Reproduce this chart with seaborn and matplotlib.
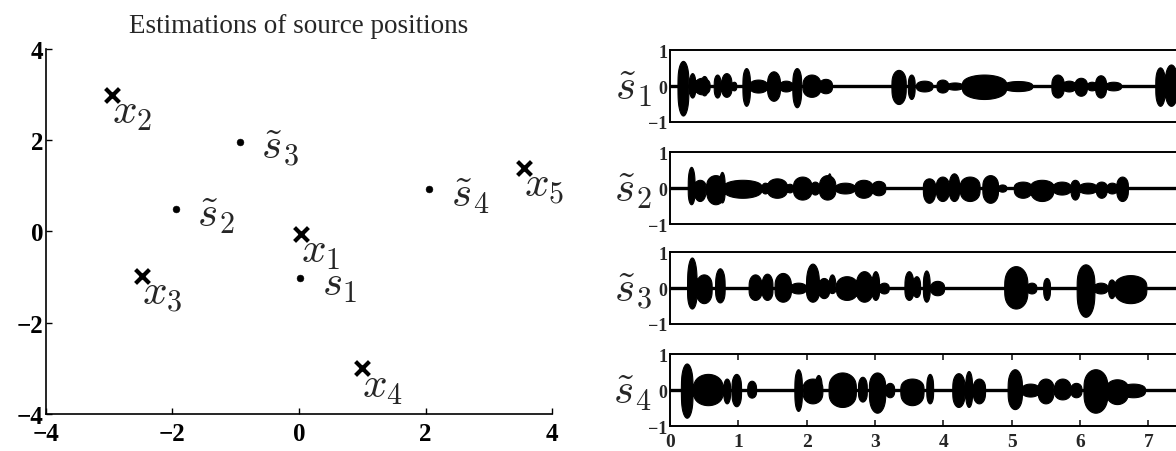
import numpy as np
import matplotlib
matplotlib.use("Agg")
import matplotlib.pyplot as plt
import seaborn as sns

# ---------------- data ----------------
mic_labels = [r"$x_1$", r"$x_2$", r"$x_3$", r"$x_4$", r"$x_5$"]
mic_x = [0.03, -2.95, -2.48, 1.00, 3.55]
mic_y = [-0.05, 3.00, -0.98, -3.00, 1.40]

src_labels = [r"$s_1$", r"$\tilde{s}_2$", r"$\tilde{s}_3$", r"$\tilde{s}_4$"]
src_x = [0.02, -1.95, -0.94, 2.06]
src_y = [-1.02, 0.49, 1.97, 0.94]

axis_ticks = [-4, -2, 0, 2, 4]
time_ticks = [0, 1, 2, 3, 4, 5, 6, 7]
panel_labels = [r"$\tilde{s}_1$", r"$\tilde{s}_2$", r"$\tilde{s}_3$", r"$\tilde{s}_4$"]

# speech bursts: (start s, end s, upper amplitude, lower amplitude)
s1_bursts = [(0.11, 0.27, 0.70, 0.82), (0.28, 0.37, 0.36, 0.32), (0.36, 0.58, 0.23, 0.23),
             (0.45, 0.55, 0.28, 0.26), (0.64, 0.74, 0.32, 0.32), (0.75, 0.90, 0.36, 0.30),
             (0.90, 0.97, 0.12, 0.12), (1.06, 1.17, 0.50, 0.55), (1.16, 1.42, 0.18, 0.18),
             (1.42, 1.61, 0.41, 0.41), (1.60, 1.79, 0.15, 0.15), (1.79, 1.92, 0.50, 0.59),
             (1.94, 2.20, 0.32, 0.30), (2.18, 2.37, 0.20, 0.20), (3.24, 3.45, 0.45, 0.50),
             (3.48, 3.58, 0.32, 0.36), (3.60, 3.84, 0.15, 0.15), (3.90, 4.07, 0.18, 0.18),
             (4.05, 4.28, 0.10, 0.10), (4.27, 4.92, 0.32, 0.36), (4.88, 5.30, 0.14, 0.14),
             (5.58, 5.76, 0.32, 0.32), (5.74, 5.93, 0.15, 0.15), (5.92, 6.10, 0.23, 0.27),
             (6.10, 6.24, 0.12, 0.12), (6.22, 6.38, 0.30, 0.32), (6.37, 6.60, 0.12, 0.12),
             (7.10, 7.24, 0.52, 0.55), (7.24, 7.42, 0.60, 0.55)]
s2_bursts = [(0.26, 0.36, 0.59, 0.45), (0.35, 0.52, 0.23, 0.36), (0.53, 0.80, 0.36, 0.45),
             (0.72, 0.80, 0.45, 0.40), (0.78, 1.34, 0.23, 0.27), (1.34, 1.44, 0.15, 0.15),
             (1.42, 1.71, 0.27, 0.27), (1.70, 1.80, 0.12, 0.12), (1.80, 2.07, 0.32, 0.32),
             (2.06, 2.18, 0.18, 0.18), (2.18, 2.42, 0.36, 0.32), (2.30, 2.36, 0.41, 0.30),
             (2.42, 2.70, 0.15, 0.15), (2.70, 2.96, 0.23, 0.27), (2.95, 3.15, 0.20, 0.20),
             (3.70, 3.88, 0.27, 0.41), (3.89, 4.08, 0.32, 0.36), (4.08, 4.23, 0.41, 0.36),
             (4.24, 4.53, 0.32, 0.36), (4.57, 4.80, 0.36, 0.41), (4.80, 4.92, 0.10, 0.10),
             (5.03, 5.29, 0.18, 0.27), (5.27, 5.61, 0.23, 0.36), (5.60, 5.86, 0.18, 0.18),
             (5.86, 5.99, 0.23, 0.32), (5.98, 6.24, 0.15, 0.15), (6.23, 6.39, 0.18, 0.27),
             (6.39, 6.54, 0.15, 0.15), (6.53, 6.70, 0.32, 0.36)]
s3_bursts = [(0.25, 0.39, 0.85, 0.57), (0.38, 0.61, 0.38, 0.42), (0.66, 0.80, 0.55, 0.40),
             (1.15, 1.34, 0.38, 0.33), (1.34, 1.50, 0.40, 0.33), (1.53, 1.77, 0.42, 0.38),
             (1.76, 1.99, 0.15, 0.15), (1.99, 2.18, 0.68, 0.38), (2.17, 2.33, 0.28, 0.28),
             (2.32, 2.42, 0.38, 0.14), (2.43, 2.74, 0.33, 0.33), (2.72, 2.96, 0.47, 0.38),
             (2.95, 3.06, 0.47, 0.33), (3.06, 3.20, 0.15, 0.15), (3.43, 3.56, 0.47, 0.33),
             (3.55, 3.66, 0.33, 0.25), (3.70, 3.80, 0.49, 0.38), (3.81, 4.01, 0.20, 0.20),
             (4.89, 5.23, 0.61, 0.57), (5.22, 5.36, 0.15, 0.15), (5.46, 5.56, 0.28, 0.33),
             (5.95, 6.21, 0.66, 0.80), (6.20, 6.40, 0.15, 0.15), (6.41, 6.51, 0.24, 0.28),
             (6.50, 6.97, 0.36, 0.42)]
s4_bursts = [(0.16, 0.33, 0.74, 0.77), (0.34, 0.77, 0.45, 0.42), (0.78, 0.88, 0.32, 0.37),
             (0.90, 1.04, 0.45, 0.45), (1.13, 1.26, 0.26, 0.21), (1.82, 1.93, 0.58, 0.58),
             (1.94, 2.23, 0.32, 0.37), (2.12, 2.22, 0.42, 0.30), (2.32, 2.72, 0.49, 0.47),
             (2.75, 2.88, 0.37, 0.32), (2.91, 3.15, 0.49, 0.63), (3.15, 3.28, 0.20, 0.20),
             (3.37, 3.71, 0.32, 0.42), (3.75, 3.85, 0.45, 0.37), (4.13, 4.31, 0.47, 0.47),
             (4.32, 4.42, 0.53, 0.47), (4.43, 4.61, 0.32, 0.37), (4.94, 5.15, 0.58, 0.53),
             (5.14, 5.40, 0.18, 0.18), (5.38, 5.61, 0.32, 0.37), (5.62, 5.86, 0.32, 0.26),
             (5.86, 6.02, 0.20, 0.20), (6.05, 6.40, 0.58, 0.63), (6.38, 6.70, 0.30, 0.39),
             (6.60, 6.95, 0.18, 0.20)]
all_bursts = [s1_bursts, s2_bursts, s3_bursts, s4_bursts]
duration = 7.45

# ---------------- style ----------------
sns.set_theme(style="ticks")
plt.rcParams["font.family"] = ["Liberation Serif", "DejaVu Serif"]
plt.rcParams["mathtext.fontset"] = "cm"
plt.rcParams["axes.linewidth"] = 1.2
plt.rcParams["axes.edgecolor"] = "black"

fig = plt.figure(figsize=(11.76, 4.52), dpi=100)

# ---------------- left panel ----------------
ax = fig.add_axes([0.0391, 0.0819, 0.4303, 0.8075])
sns.scatterplot(x=mic_x, y=mic_y, marker="x", s=100, color="black", linewidth=3.0, ax=ax)
sns.scatterplot(x=src_x, y=src_y, marker="o", s=24, color="black", edgecolor="black", ax=ax)
for lx, ly, lab in zip(mic_x, mic_y, mic_labels):
    ax.text(lx, ly - 0.62, lab, fontsize=31, ha="left", va="baseline")
for lx, ly, lab in zip(src_x, src_y, src_labels):
    ax.text(lx + 0.34, ly - 0.37, lab, fontsize=31, ha="left", va="baseline")
ax.set_xlim(-4, 4)
ax.set_ylim(-4, 4)
ax.set_xticks(axis_ticks)
ax.set_yticks(axis_ticks)
ax.set_xticklabels([f"{v}".replace("-", "\u2212") for v in axis_ticks],
                   fontsize=18, fontweight="bold")
ax.set_yticklabels([f"{v}".replace("-", "\u2212") for v in axis_ticks],
                   fontsize=18, fontweight="bold")
ax.tick_params(direction="in", length=4, width=1.0, colors="black")
ax.tick_params(axis="x", pad=6)
ax.tick_params(axis="y", pad=2)
sns.despine(ax=ax)
ax.set_title("Estimations of source positions", fontsize=19.5, pad=12)

# ---------------- right panels ----------------
t = np.linspace(0, duration, 6000)
bottoms = [0.7279, 0.5022, 0.2810, 0.0553]
for i, (bursts, lab, b) in enumerate(zip(all_bursts, panel_labels, bottoms)):
    axw = fig.add_axes([0.5697, b, 0.4330, 0.159])
    up = np.zeros_like(t)
    lo = np.zeros_like(t)
    for (a, e, au, ad) in bursts:
        u = (t - a) / (e - a)
        m = (u > 0) & (u < 1)
        shape = np.zeros_like(t)
        shape[m] = np.sin(np.pi * u[m]) ** 0.3
        up = np.maximum(up, au * shape)
        lo = np.maximum(lo, ad * shape)
    axw.fill_between(t, up, -lo, color="black", linewidth=0.8, edgecolor="black")
    sns.lineplot(x=[0, duration], y=[0, 0], color="black", linewidth=2.4, ax=axw)
    axw.set_xlim(0, duration)
    axw.set_ylim(-1, 1)
    axw.set_yticks([-1, 0, 1])
    axw.set_yticklabels(["\u22121", "0", "1"], fontsize=13, fontweight="bold")
    if i == 3:
        axw.set_xticks(time_ticks)
        axw.set_xticklabels([str(v) for v in time_ticks], fontsize=14, fontweight="bold")
        axw.tick_params(axis="x", direction="in", top=True, length=4, pad=5)
    else:
        axw.set_xticks([])
    axw.tick_params(axis="y", direction="in", length=0, pad=2)
    for sp in axw.spines.values():
        sp.set_linewidth(1.4)
    axw.text(-0.036, 0.47, lab, transform=axw.transAxes, fontsize=31,
             ha="right", va="center")

fig.savefig("out.png", dpi=100)
